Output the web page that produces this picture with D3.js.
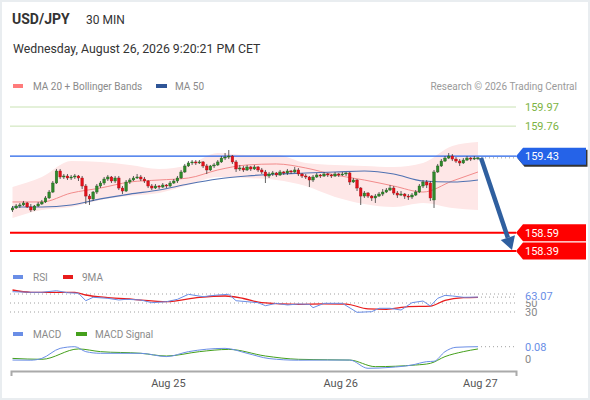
<!DOCTYPE html>
<html>
<head>
<meta charset="utf-8">
<script src="https://cdn.jsdelivr.net/npm/d3@7"></script>
<style>
  html, body { margin: 0; padding: 0; background: #e9edf0; }
  svg { display: block; font-family: Roboto, Arial, sans-serif; }
</style>
</head>
<body>
<svg id="chart" width="590" height="400"></svg>
<script>
// 30 min candles, [open, high, low, close]
var candles = [
  [158.840,158.884,158.818,158.862],[158.862,158.906,158.851,158.884],[158.884,158.917,158.862,158.895],[158.895,158.939,158.884,158.917],
  [158.917,158.928,158.862,158.873],[158.873,158.906,158.818,158.840],[158.840,158.895,158.829,158.884],[158.884,158.928,158.873,158.906],
  [158.906,158.950,158.895,158.928],[158.928,158.993,158.917,158.972],[158.972,159.059,158.961,159.037],[159.037,159.158,159.026,159.136],
  [159.136,159.290,159.125,159.268],[159.268,159.290,159.180,159.202],[159.202,159.235,159.180,159.213],[159.213,159.235,159.169,159.191],
  [159.191,159.224,159.169,159.202],[159.202,159.235,159.180,159.213],[159.213,159.224,159.158,159.191],[159.191,159.213,159.070,159.103],
  [159.103,159.125,158.906,158.993],[158.993,159.015,158.895,158.961],[158.961,159.048,158.939,159.037],[159.037,159.125,159.015,159.103],
  [159.103,159.158,159.081,159.136],[159.136,159.202,159.114,159.180],[159.180,159.224,159.158,159.202],[159.202,159.213,159.136,159.158],
  [159.158,159.213,159.136,159.191],[159.191,159.213,159.059,159.081],[159.081,159.103,159.015,159.048],[159.048,159.169,159.037,159.147],
  [159.147,159.191,159.125,159.169],[159.169,159.213,159.158,159.191],[159.191,159.235,159.180,159.202],[159.202,159.224,159.158,159.180],
  [159.180,159.202,159.136,159.158],[159.158,159.169,159.081,159.103],[159.103,159.125,159.059,159.081],[159.081,159.125,159.070,159.103],
  [159.103,159.114,159.070,159.092],[159.092,159.136,159.081,159.114],[159.114,159.125,159.081,159.103],[159.103,159.158,159.092,159.136],
  [159.136,159.180,159.125,159.158],[159.158,159.213,159.136,159.191],[159.191,159.279,159.180,159.257],[159.257,159.345,159.246,159.323],
  [159.323,159.377,159.312,159.356],[159.356,159.388,159.334,159.367],[159.367,159.388,159.334,159.356],[159.356,159.388,159.345,159.367],
  [159.367,159.377,159.301,159.323],[159.323,159.345,159.235,159.279],[159.279,159.334,159.268,159.323],[159.323,159.356,159.301,159.334],
  [159.334,159.388,159.323,159.367],[159.367,159.432,159.356,159.410],[159.410,159.465,159.388,159.421],[159.421,159.498,159.399,159.432],
  [159.432,159.443,159.345,159.367],[159.367,159.388,159.257,159.290],[159.290,159.334,159.268,159.301],[159.301,159.323,159.257,159.279],
  [159.279,159.334,159.268,159.312],[159.312,159.323,159.268,159.290],[159.290,159.334,159.279,159.312],[159.312,159.323,159.257,159.279],
  [159.279,159.301,159.235,159.257],[159.257,159.279,159.136,159.213],[159.213,159.257,159.191,159.235],[159.235,159.268,159.213,159.246],
  [159.246,159.257,159.202,159.224],[159.224,159.279,159.213,159.257],[159.257,159.268,159.224,159.246],[159.246,159.290,159.224,159.268],
  [159.268,159.279,159.235,159.257],[159.257,159.312,159.246,159.279],[159.279,159.301,159.213,159.235],[159.235,159.246,159.191,159.213],
  [159.213,159.235,159.180,159.202],[159.202,159.213,159.092,159.169],[159.169,159.224,159.147,159.202],[159.202,159.246,159.191,159.224],
  [159.224,159.235,159.191,159.213],[159.213,159.257,159.202,159.235],[159.235,159.246,159.202,159.224],[159.224,159.235,159.191,159.213],
  [159.213,159.257,159.202,159.235],[159.235,159.246,159.202,159.224],[159.224,159.257,159.213,159.235],[159.235,159.257,159.213,159.246],
  [159.246,159.257,159.114,159.147],[159.147,159.191,159.136,159.169],[159.169,159.180,159.048,159.081],[159.081,159.092,158.895,158.993],
  [158.993,159.048,158.972,159.026],[159.026,159.037,158.972,158.993],[158.993,159.004,158.939,158.972],[158.972,159.015,158.917,158.993],
  [158.993,159.037,158.983,159.015],[159.015,159.070,158.993,159.037],[159.037,159.081,159.026,159.059],[159.059,159.114,159.048,159.081],
  [159.081,159.103,159.004,159.026],[159.026,159.048,158.972,159.004],[159.004,159.048,158.993,159.015],[159.015,159.026,158.961,158.993],
  [158.993,159.015,158.950,158.983],[158.983,159.026,158.961,159.004],[159.004,159.059,158.993,159.037],[159.037,159.125,159.026,159.103],
  [159.103,159.169,159.081,159.147],[159.147,159.169,159.081,159.114],[159.136,159.158,158.939,158.972],[158.950,159.279,158.862,159.257],
  [159.257,159.345,159.246,159.323],[159.323,159.399,159.312,159.377],[159.377,159.432,159.367,159.410],[159.410,159.465,159.399,159.432],
  [159.432,159.454,159.377,159.399],[159.399,159.421,159.356,159.377],[159.377,159.399,159.323,159.356],[159.356,159.410,159.345,159.388],
  [159.388,159.432,159.377,159.410],[159.410,159.421,159.377,159.399],[159.399,159.432,159.388,159.410],[159.410,159.421,159.388,159.412]
];

// moving averages and bands, read at these bar indexes
var bandIdx = [0, 8, 16, 24, 32, 40, 48, 56, 64, 72, 80, 88, 96, 104, 112, 120, 127];
var bbUpper = [159.092, 159.202, 159.377, 159.367, 159.334, 159.290, 159.334, 159.465, 159.443, 159.443, 159.356, 159.334, 159.323, 159.312, 159.356, 159.542, 159.586];
var bbLower = [158.752, 158.840, 158.873, 158.950, 158.993, 159.026, 159.114, 159.202, 159.191, 159.169, 159.103, 158.983, 158.906, 158.873, 158.917, 158.862, 158.840];
var ma20 = [158.928, 158.928, 159.026, 159.081, 159.147, 159.169, 159.191, 159.279, 159.334, 159.345, 159.301, 159.224, 159.169, 159.103, 159.037, 159.158, 159.257];
var ma50 = [158.873, 158.873, 158.895, 158.961, 159.015, 159.059, 159.125, 159.180, 159.213, 159.235, 159.246, 159.257, 159.268, 159.235, 159.158, 159.147, 159.169];

// key levels
var levelValues = [159.97, 159.76, 159.43, 158.59, 158.39];
var levelKinds = ['resistance', 'resistance', 'pivot', 'support', 'support'];

// RSI and its 9 period average
var rsiIdx = [0, 5, 8, 12, 15, 18, 20, 22, 26, 29, 31, 35, 38, 42, 45, 48, 52, 56, 59, 61, 64, 67, 69, 72, 75, 78, 81, 82, 85, 90, 94, 98, 100, 103, 106, 109, 112, 114, 116, 118, 120, 123, 127];
var rsiVal = [75.1, 73.8, 73.8, 77.3, 72.9, 71.6, 55.1, 62.7, 60.4, 56.7, 58.2, 56.7, 50.7, 52.9, 58.2, 69.3, 64.0, 67.8, 69.3, 55.1, 52.9, 50.7, 44.0, 49.3, 45.6, 47.8, 47.0, 39.6, 49.3, 49.3, 29.3, 30.7, 38.2, 38.2, 34.4, 50.7, 54.4, 43.3, 60.4, 67.0, 65.6, 62.7, 63.07];
var rsiMaIdx = [0, 5, 12, 17, 20, 26, 33, 42, 51, 58, 63, 68, 78, 85, 91, 97, 102, 108, 114, 118, 123, 127];
var rsiMaVal = [78.9, 73.8, 73.5, 73.8, 67.8, 62.0, 58.2, 52.9, 62.7, 65.6, 60.0, 50.7, 47.1, 48.0, 47.5, 37.0, 36.0, 41.8, 43.0, 56.0, 62.0, 62.7];
var rsiGrid = [70, 50, 30];
var rsiTickLabels = [50, 30];

// MACD and signal
var macdIdx = [0, 5, 8, 13, 17, 20, 24, 35, 42, 48, 58, 64, 70, 78, 86, 92, 97, 103, 109, 113, 115, 118, 121, 127];
var macdVal = [-0.007, -0.008, 0.004, 0.071, 0.082, 0.049, 0.038, 0.038, 0.016, 0.049, 0.071, 0.038, 0.003, -0.008, -0.007, -0.007, -0.062, -0.056, -0.040, -0.018, -0.015, 0.049, 0.078, 0.082];
var signalIdx = [0, 8, 18, 24, 35, 42, 51, 59, 69, 78, 86, 92, 99, 110, 114, 118, 123, 127];
var signalVal = [0.004, -0.002, 0.067, 0.049, 0.038, 0.020, 0.049, 0.064, 0.020, -0.002, -0.005, -0.007, -0.051, -0.040, -0.029, 0.016, 0.049, 0.067];

// time axis
var dateTickIdx = [42.4, 89.4, 127.5];
var dateTickLabels = ['Aug 25', 'Aug 26', 'Aug 27'];

var tcchart = (function (d3, window, document, undefined) {

  var tcchart = {

    svg: null,
    x: null,
    colors: {
      up: '#2f8a2b', down: '#e3111b', wick: '#3a3a3a',
      band: '#fee7e7', ma20: '#f28b8b', ma50: '#5072b2',
      resistance: '#c9e2b3', resistanceText: '#7cb342',
      pivot: '#2563e8', support: '#ff0000',
      rsi: '#6a8ee6', rsiMa: '#e81c1c', macd: '#6a8ee6', signal: '#45a01c',
      arrow: '#2f5f9f', legend: '#8a8a8a', grid: '#a0a0a0'
    },

    init: function () {
      this.svg = d3.select('#chart');
      this.x = d3.scaleLinear().domain([0, candles.length - 1]).range([12.5, 478]);
      this.initFrame()
          .initHeader()
          .initPrice()
          .initRsi()
          .initMacd()
          .initAxis();
    },

    initFrame: function () {
      this.svg.append('rect')
        .attr('x', 2).attr('y', 2).attr('width', 586).attr('height', 396)
        .attr('fill', '#fff');
      return this;
    },

    initHeader: function () {
      var svg = this.svg;
      svg.append('text').attr('x', 12).attr('y', 24)
        .attr('font-size', 14).attr('font-weight', 'bold').attr('fill', '#333')
        .text('USD/JPY');
      svg.append('text').attr('x', 86).attr('y', 24)
        .attr('font-size', 12).attr('fill', '#333')
        .text('30 MIN');
      svg.append('text').attr('x', 13).attr('y', 53)
        .attr('font-size', 12.3).attr('fill', '#333')
        .text('Wednesday, August 26, 2026 9:20:21 PM CET');
      return this;
    },

    legend: function (items, y) {
      var self = this;
      items.forEach(function (it) {
        self.svg.append('rect')
          .attr('x', it.sx).attr('y', y - 2).attr('width', it.sw).attr('height', 4)
          .attr('fill', it.color);
        self.svg.append('text')
          .attr('x', it.tx).attr('y', y + 3.5)
          .attr('font-size', 10).attr('fill', self.colors.legend)
          .text(it.label);
      });
    },

    series: function (idx, vals) {
      return idx.map(function (d, i) { return [d, vals[i]]; });
    },

    initPrice: function () {
      var c = this.colors, x = this.x, svg = this.svg;
      var y = d3.scaleLinear().domain([158.39, 159.97]).range([251, 107]);
      var g = svg.append('g').attr('class', 'price');

      this.legend([
        { sx: 13, sw: 10, tx: 33, color: '#ff7b7b', label: 'MA 20 + Bollinger Bands' },
        { sx: 156, sw: 11, tx: 175, color: '#2f5597', label: 'MA 50' }
      ], 86);
      svg.append('text').attr('x', 577).attr('y', 89.5).attr('text-anchor', 'end')
        .attr('font-size', 10).attr('fill', '#9a9a9a')
        .text('Research \u00a9 2026 Trading Central');

      // bollinger band area
      var band = bandIdx.map(function (d, i) { return { i: d, hi: bbUpper[i], lo: bbLower[i] }; });
      g.append('path').datum(band)
        .attr('fill', c.band)
        .attr('d', d3.area().curve(d3.curveMonotoneX)
          .x(function (d) { return x(d.i); })
          .y0(function (d) { return y(d.lo); })
          .y1(function (d) { return y(d.hi); }));

      var line = d3.line().curve(d3.curveMonotoneX)
        .x(function (d) { return x(d[0]); })
        .y(function (d) { return y(d[1]); });
      g.append('path').datum(this.series(bandIdx, ma20))
        .attr('fill', 'none').attr('stroke', c.ma20).attr('stroke-width', 1).attr('d', line);
      g.append('path').datum(this.series(bandIdx, ma50))
        .attr('fill', 'none').attr('stroke', c.ma50).attr('stroke-width', 1.2).attr('d', line);

      // levels
      levelValues.forEach(function (v, i) {
        var kind = levelKinds[i];
        g.append('line')
          .attr('x1', 10).attr('x2', 516).attr('y1', y(v)).attr('y2', y(v))
          .attr('stroke', c[kind])
          .attr('stroke-width', kind === 'support' ? 2 : (kind === 'pivot' ? 1.3 : 1));
      });

      // candles
      var w = 2.6;
      var cg = g.append('g').selectAll('g').data(candles).enter().append('g');
      cg.append('line')
        .attr('x1', function (d, i) { return x(i); })
        .attr('x2', function (d, i) { return x(i); })
        .attr('y1', function (d) { return y(d[1]); })
        .attr('y2', function (d) { return y(d[2]); })
        .attr('stroke', c.wick).attr('stroke-width', 0.8);
      cg.append('rect')
        .attr('x', function (d, i) { return x(i) - w / 2; })
        .attr('width', w)
        .attr('y', function (d) { return y(Math.max(d[0], d[3])); })
        .attr('height', function (d) { return Math.max(1, Math.abs(y(d[0]) - y(d[3]))); })
        .attr('fill', function (d) { return d[3] >= d[0] ? c.up : c.down; })
        .attr('stroke', function (d) { return d[3] >= d[0] ? '#215f1f' : '#a30d13'; })
        .attr('stroke-width', 0.4);

      // last price dotted
      var n = candles.length, last = candles[n - 1][3];
      g.append('line')
        .attr('x1', x(n - 1) + 3).attr('x2', 516)
        .attr('y1', y(last)).attr('y2', y(last))
        .attr('stroke', '#999').attr('stroke-dasharray', '1,3');

      // forecast arrow towards last support
      var target = levelValues[levelValues.length - 1];
      var ax0 = x(n - 1) + 3, ay0 = y(last), ax1 = x(n - 1) + 34, ay1 = y(target) - 1;
      var ang = Math.atan2(ay1 - ay0, ax1 - ax0), hl = 13, hw = 7.5;
      var bx = ax1 - hl * Math.cos(ang), by = ay1 - hl * Math.sin(ang);
      g.append('line').attr('x1', ax0).attr('y1', ay0).attr('x2', bx).attr('y2', by)
        .attr('stroke', c.arrow).attr('stroke-width', 4.5);
      g.append('path')
        .attr('d', 'M' + ax1 + ',' + ay1 +
          'L' + (bx + hw * Math.sin(ang)) + ',' + (by - hw * Math.cos(ang)) +
          'L' + (bx - hw * Math.sin(ang)) + ',' + (by + hw * Math.cos(ang)) + 'Z')
        .attr('fill', c.arrow);

      // level labels
      levelValues.forEach(function (v, i) {
        var kind = levelKinds[i], yc = y(v);
        if (kind === 'resistance') {
          g.append('text').attr('x', 525).attr('y', yc + 4)
            .attr('font-size', 11).attr('fill', c.resistanceText).text(v.toFixed(2));
          return;
        }
        var shape = 'M516,' + yc + 'L523,' + (yc - 8.5) + 'H586V' + (yc + 8.5) + 'H523Z';
        if (kind === 'pivot') {
          g.append('path').attr('d', shape).attr('fill', '#333')
            .attr('transform', 'translate(1.5,2)');
        }
        g.append('path').attr('d', shape).attr('fill', c[kind]);
        g.append('text').attr('x', 525).attr('y', yc + 4)
          .attr('font-size', 11).attr('fill', '#fff').text(v.toFixed(2));
      });
      return this;
    },

    initRsi: function () {
      var c = this.colors, x = this.x, svg = this.svg;
      var y = d3.scaleLinear().domain([30, 70]).range([312, 294]);
      var g = svg.append('g').attr('class', 'rsi');

      this.legend([
        { sx: 13, sw: 10, tx: 33, color: c.rsi, label: 'RSI' },
        { sx: 63, sw: 10, tx: 82, color: c.rsiMa, label: '9MA' }
      ], 277);

      rsiGrid.forEach(function (t) {
        g.append('line').attr('x1', 10).attr('x2', 516).attr('y1', y(t)).attr('y2', y(t))
          .attr('stroke', c.grid).attr('stroke-dasharray', '1,3');
      });
      rsiTickLabels.forEach(function (t) {
        g.append('text').attr('x', 525).attr('y', y(t) + 4)
          .attr('font-size', 11).attr('fill', '#888').text(t);
      });

      var line = d3.line()
        .x(function (d) { return x(d[0]); })
        .y(function (d) { return y(d[1]); });
      g.append('path').datum(this.series(rsiMaIdx, rsiMaVal))
        .attr('fill', 'none').attr('stroke', c.rsiMa).attr('stroke-width', 1.3)
        .attr('d', line.curve(d3.curveMonotoneX));
      g.append('path').datum(this.series(rsiIdx, rsiVal))
        .attr('fill', 'none').attr('stroke', c.rsi).attr('stroke-width', 1)
        .attr('d', line.curve(d3.curveLinear));

      var lastV = rsiVal[rsiVal.length - 1], lastI = rsiIdx[rsiIdx.length - 1];
      g.append('line').attr('x1', x(lastI) + 3).attr('x2', 516)
        .attr('y1', y(lastV)).attr('y2', y(lastV))
        .attr('stroke', c.grid).attr('stroke-dasharray', '1,3');
      g.append('rect').attr('x', 522).attr('y', y(lastV) - 8).attr('width', 40).attr('height', 11.5)
        .attr('fill', '#fff');
      g.append('text').attr('x', 525).attr('y', y(lastV) + 3)
        .attr('font-size', 11).attr('fill', c.rsi).text(lastV.toFixed(2));
      return this;
    },

    initMacd: function () {
      var c = this.colors, x = this.x, svg = this.svg;
      var y = d3.scaleLinear().domain([0, 0.08]).range([359, 347]);
      var g = svg.append('g').attr('class', 'macd');

      this.legend([
        { sx: 13, sw: 10, tx: 33, color: c.macd, label: 'MACD' },
        { sx: 76, sw: 11, tx: 95, color: c.signal, label: 'MACD Signal' }
      ], 334);

      var line = d3.line().curve(d3.curveMonotoneX)
        .x(function (d) { return x(d[0]); })
        .y(function (d) { return y(d[1]); });
      g.append('path').datum(this.series(signalIdx, signalVal))
        .attr('fill', 'none').attr('stroke', c.signal).attr('stroke-width', 1).attr('d', line);
      g.append('path').datum(this.series(macdIdx, macdVal))
        .attr('fill', 'none').attr('stroke', c.macd).attr('stroke-width', 1).attr('d', line);

      var lastV = macdVal[macdVal.length - 1], lastI = macdIdx[macdIdx.length - 1];
      g.append('line').attr('x1', x(lastI) + 3).attr('x2', 516)
        .attr('y1', y(lastV)).attr('y2', y(lastV))
        .attr('stroke', c.grid).attr('stroke-dasharray', '1,3');
      g.append('text').attr('x', 525).attr('y', y(0) + 4)
        .attr('font-size', 11).attr('fill', '#888').text('0');
      g.append('text').attr('x', 525).attr('y', y(lastV) + 4)
        .attr('font-size', 11).attr('fill', c.macd).text(lastV.toFixed(2));
      return this;
    },

    initAxis: function () {
      var x = this.x;
      var xa = d3.scaleLinear().domain([x.invert(11), x.invert(516)]).range([11, 516]);
      var axis = d3.axisBottom(xa)
        .tickValues(dateTickIdx)
        .tickSizeInner(0).tickSizeOuter(5).tickPadding(8)
        .tickFormat(function (d, i) { return dateTickLabels[i]; });
      var g = this.svg.append('g').attr('transform', 'translate(0,371)').call(axis);
      g.select('.domain').attr('stroke', '#aaa').attr('stroke-width', 2);
      g.selectAll('text').attr('font-size', 11).attr('fill', '#555')
        .attr('font-family', 'Roboto, Arial, sans-serif');
      return this;
    }
  };

  return tcchart;
})(d3, this, this.document);

tcchart.init();
</script>
</body>
</html>
